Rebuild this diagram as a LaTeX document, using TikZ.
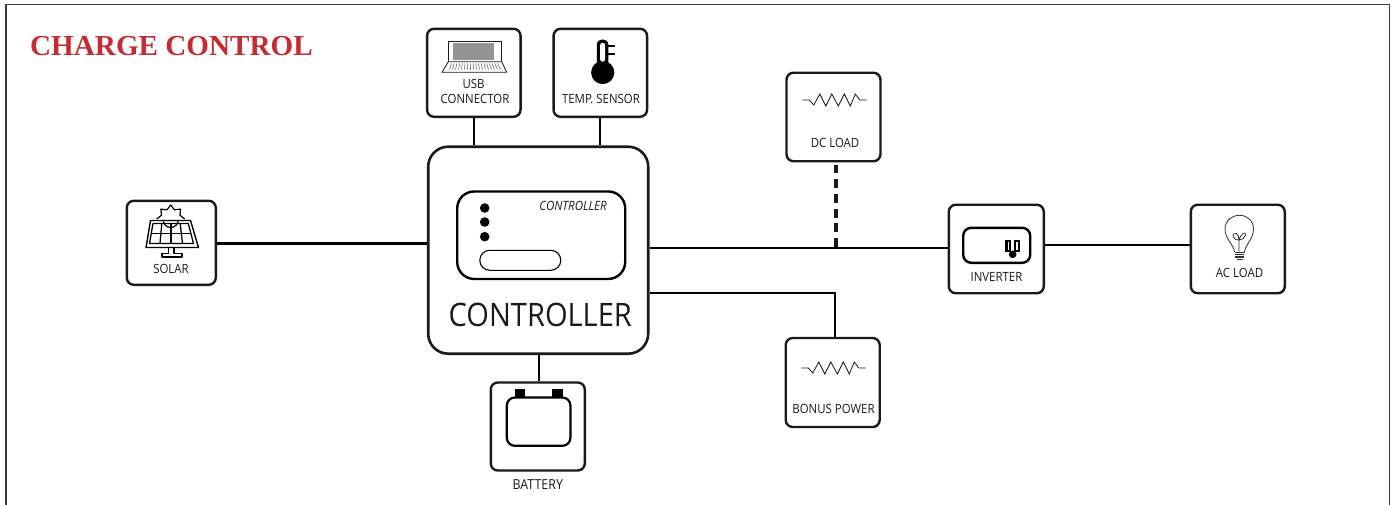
\documentclass[tikz,border=0pt]{standalone}
\usepackage{fontspec}
\setmainfont{Open Sans}[FakeStretch=0.9]
\newfontfamily\titlefont{Liberation Serif}[FakeStretch=1.005]
\definecolor{titlered}{HTML}{C52B30}
\definecolor{inkc}{HTML}{1A1A1A}
\tikzset{
  unit/.style={draw=inkc,line width=2.4pt,rounded corners=7pt,fill=white,inner sep=0pt,minimum width=#1},
  unit/.default=95pt,
  wire/.style={draw=black,line width=2.3pt},
  lbl/.style={inner sep=0pt,font=\fontsize{12.7}{14}\selectfont,text=inkc,align=center},
  resist/.style={draw=inkc,line width=0.8pt,line join=miter},
  thin icon/.style={draw=inkc,line width=0.8pt}
}
\newcommand{\resistor}[2]{%
  \draw[resist,shift={(#1,#2)}] (-31.5,0) -- (-24.5,0) -- (-20,5) -- (-14,-6) -- (-8,6) -- (-2,-6) -- (4.5,6) -- (10.5,-6) -- (16.5,6) -- (21.5,-6) -- (26,0) -- (33,0);}
\begin{document}
\begin{tikzpicture}[x=1pt,y=-1pt]
\useasboundingbox (0,0) rectangle (1395,504);
% frame
\draw[draw=inkc!85,line width=1.3pt] (6,505) -- (6,4.5) -- (1389.5,4.5) -- (1389.5,505);
\node[anchor=west,inner sep=0pt,text=titlered,font=\titlefont\bfseries\fontsize{29}{32}\selectfont] (title) at (30,46) {CHARGE CONTROL};
% boxes
\node[unit=89pt,minimum height=84pt] (solar) at (171.3,242.8) {};
\node[unit=93.5pt,minimum height=88pt] (usb) at (473.8,72.8) {};
\node[unit=93.5pt,minimum height=88pt] (temp) at (600.3,72.8) {};
\node[unit=220pt,minimum height=207pt,rounded corners=20pt,line width=2.6pt] (ctrl) at (538.2,250.2) {};
\node[unit=94pt,minimum height=88pt] (batt) at (537.8,426.5) {};
\node[unit=94pt,minimum height=88.5pt] (dc) at (833.5,117) {};
\node[unit=94pt,minimum height=89pt] (bonus) at (832.7,382.5) {};
\node[unit=95pt,minimum height=88.5pt] (inv) at (996.3,249) {};
\node[unit=94pt,minimum height=88.5pt] (ac) at (1237.8,249) {};
% connector levels
\coordinate (ySolar) at (0,243.5);
\coordinate (yMain) at (0,248);
\coordinate (yAc) at (0,245);
\coordinate (yBonus) at (0,292.7);
\coordinate (xDc) at (836,0);
\coordinate (xBonus) at (835,0);
\coordinate (xBatt) at (538.7,0);
\draw[wire] (solar.east |- ySolar) -- (ctrl.west |- ySolar);
\draw[wire] (usb.south) -- (usb.south |- ctrl.north);
\draw[wire] (temp.south) -- (temp.south |- ctrl.north);
\draw[wire] (xBatt |- ctrl.south) -- (xBatt |- batt.north);
\draw[wire] (ctrl.east |- yMain) -- (inv.west |- yMain);
\draw[wire] (inv.east |- yAc) -- (ac.west |- yAc);
\draw[wire] (ctrl.east |- yBonus) -- (xBonus |- yBonus) -- (xBonus |- bonus.north);
\draw[draw=inkc,line width=4pt,dash pattern=on 8.8pt off 5.9pt] (xDc |- dc.south) ++(0,2.2) -- (xDc |- yMain);
% controller face
\node[draw=black,line width=2.4pt,rounded corners=17pt,inner sep=0pt,minimum width=168pt,minimum height=87.5pt] (face) at (541.2,235.2) {};
\node[draw=black,line width=1.1pt,rounded corners=10pt,inner sep=0pt,minimum width=81pt,minimum height=20pt] (pill) at (520.3,260.3) {};
\foreach \n/\y in {a/208,b/222,c/236.7}{\node[circle,fill=black,inner sep=0pt,minimum size=9.6pt] (dot\n) at (484.7,\y) {};}
\node[lbl,font=\itshape\fontsize{12.8}{14}\selectfont] (ctrlsmall) at (573,205.8) {CONTROLLER};
\node[lbl,font=\fontsize{32.3}{35}\selectfont] (ctrlbig) at (540.3,315) {CONTROLLER};
% labels
\node[lbl] (solarl) at (171,269) {SOLAR};
\node[lbl] (usbl1) at (473.5,83.5) {USB};
\node[lbl] (usbl2) at (475,98.5) {CONNECTOR};
\node[lbl] (templ) at (601,98.5) {TEMP. SENSOR};
\node[lbl,font=\fontsize{13.8}{15}\selectfont] (battl) at (537.8,485) {BATTERY};
\node[lbl] (dcl) at (835,143) {DC LOAD};
\node[lbl] (bonusl) at (833.5,409) {BONUS POWER};
\node[lbl] (invl) at (996.5,276.7) {INVERTER};
\node[lbl] (acl) at (1239.5,273.3) {AC LOAD};
% resistors
\resistor{833.8}{100}
\resistor{832.8}{368}
% battery
\fill[black] (514.5,388.8) rectangle (524.5,398);
\fill[black] (552,388.8) rectangle (562.5,398);
\draw[draw=black,line width=2.2pt,rounded corners=8pt] (506.8,397.5) rectangle (570.4,445.8);
% inverter socket
\draw[draw=black,line width=2.4pt,rounded corners=8pt] (963.2,227.8) rectangle (1030.2,262.8);
\fill[black] (1005.3,239.8) rectangle (1011,251.5);
\fill[black] (1014,239.8) rectangle (1019.7,251.5);
\fill[white] (1007.5,242) rectangle (1008.8,250);
\fill[white] (1016.2,242) rectangle (1017.5,250);
\fill[black] (1012.7,254.3) circle (3.8);
% laptop
\draw[thin icon,fill=white] (448.3,61.7) -- (448.3,41.7) -- (501.7,41.7) -- (501.7,61.7);
\fill[black!42] (453,43) rectangle (494,60);
\draw[thin icon,fill=white] (448.3,61.7) -- (501.7,61.7) -- (506.7,72.3) -- (442,72.3) -- cycle;
\foreach \i in {0,...,17}{\draw[draw=inkc!70,line width=0.55pt] ({451.5+\i*2.7},63.5) -- ({449.5+\i*3.0},69.5);}
% thermometer
\fill[black] (602.7,72.5) circle (11.6);
\fill[black] (596.8,45) .. controls (596.8,37.5) and (608.4,37.5) .. (608.4,45) -- (608.4,63) -- (613,69) -- (592.4,69) -- (596.8,63) -- cycle;
\fill[white,rounded corners=2.5pt] (600.1,42.7) rectangle (605.1,61.7);
\fill[black] (608,44.5) rectangle (615,47);
\fill[black] (608,52.5) rectangle (615,55);
% solar icon
\begin{scope}[draw=black,line width=1.2pt,line join=round]
  \draw (163.2,220) arc[start angle=180,end angle=0,radius=7.5];
  \draw (156.7,219) -- (161.5,215.2) -- (160.8,209.1) -- (166.9,209.8) -- (170.7,205) -- (174.5,209.8) -- (180.6,209.1) -- (179.9,215.2) -- (184.7,219);
  \draw[line width=1.4pt] (150.5,220.5) -- (190.5,220.5) -- (198.5,247.5) -- (146,247.5) -- cycle;
  \draw[line width=1.3pt] (153,223.5) -- (188.3,223.5) -- (193.5,243.5) -- (149.5,243.5) -- cycle;
  \draw[line width=1.3pt] (151,233.5) -- (191,233.5);
  \draw[line width=1.3pt] (161.8,223.5) -- (160,243.5);
  \draw[line width=1.3pt] (171,223.5) -- (171,243.5);
  \draw[line width=1.3pt] (180.2,223.5) -- (182.5,243.5);
  \draw (168.5,247.5) -- (168.5,253.5) -- (162,253.5) -- (162,257) -- (182,257) -- (182,253.5) -- (174,253.5) -- (174,247.5);
\end{scope}
% bulb
\begin{scope}[draw=inkc!90,line width=0.8pt]
  \draw (1234.5,252) .. controls (1234,245) and (1225,239) .. (1225,229) .. controls (1225,220.5) and (1232,215.3) .. (1239.5,215.3) .. controls (1247,215.3) and (1253.5,220.5) .. (1253.5,229) .. controls (1253.5,239) and (1245,245) .. (1244.5,252);
  \draw (1239,252) -- (1239,240) .. controls (1231,240) and (1232,232) .. (1236.5,233.5) .. controls (1238,234) and (1239,237) .. (1239,240) .. controls (1241,233) and (1246,231) .. (1245.5,235) .. controls (1245,238) and (1242,240) .. (1239,240);
  \draw (1234.5,252) -- (1244.5,252);
  \draw[line width=1.1pt] (1234.5,254.5) -- (1244,254.5);
  \draw[line width=1.1pt] (1234.5,257) -- (1244,257);
  \draw[line width=1.1pt] (1236.5,259.7) -- (1242.5,259.7);
\end{scope}
\end{tikzpicture}
\end{document}
